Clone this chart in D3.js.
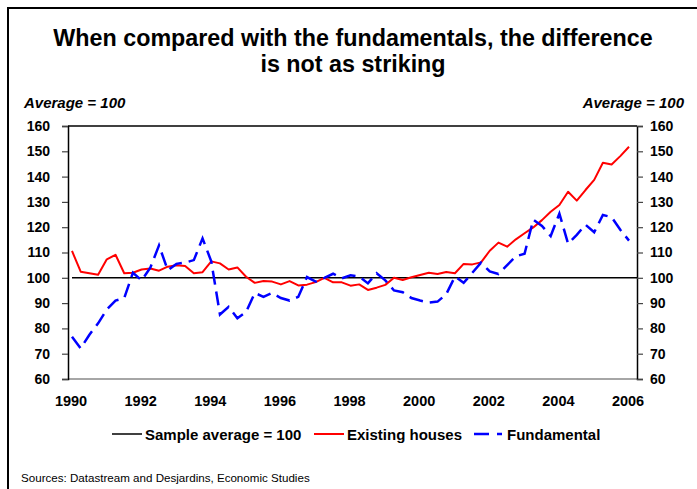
<!DOCTYPE html>
<html>
<head>
<meta charset="utf-8">
<script src="https://cdn.jsdelivr.net/npm/d3@7"></script>
<style>
  body { margin: 0; background: #fff; }
  text { font-family: "Liberation Sans", Arial, sans-serif; }
</style>
</head>
<body>
<div id="chart"></div>
<script>
// quarterly index values, 1990Q1 to 2006Q1 (average = 100)
const startYear = 1990;
const existingHouses = [
  110.6, 102.4, 101.8, 101.2, 107.3, 109.1, 101.8, 102.0,
  103.3, 103.7, 102.8, 104.4, 105.0, 104.7, 101.8, 102.2,
  106.5, 105.7, 103.3, 104.1, 100.4, 98.0, 98.7, 98.5,
  97.4, 98.7, 97.0, 97.3, 98.3, 100.0, 98.2, 98.2,
  96.9, 97.4, 95.2, 96.1, 97.2, 100.0, 99.1, 100.2,
  101.1, 102.0, 101.5, 102.3, 101.8, 105.5, 105.3, 106.1,
  110.7, 113.9, 112.3, 115.2, 117.6, 119.9, 122.8, 126.1,
  128.8, 134.0, 130.5, 134.7, 138.7, 145.5, 144.8, 148.1,
  151.8
];
const fundamental = [
  76.7, 72.1, 77.5, 82.0, 87.5, 91.0, 92.0, 102.0,
  99.0, 104.0, 112.8, 103.0, 105.5, 106.0, 107.0, 115.6,
  106.5, 85.5, 88.5, 84.0, 86.5, 94.0, 92.5, 94.0,
  92.0, 91.0, 92.5, 100.3, 98.5, 100.0, 101.6, 99.8,
  101.0, 100.5, 97.8, 101.8, 99.0, 95.0, 94.3, 92.0,
  91.0, 90.2, 90.6, 93.5, 100.5, 98.0, 102.0, 106.0,
  102.5, 101.5, 105.0, 108.5, 109.5, 123.0, 120.5, 116.5,
  125.4, 113.5, 117.0, 121.0, 118.0, 124.8, 124.0, 119.0,
  114.7
];
const sampleAverage = 100;
const yTicks = [60, 70, 80, 90, 100, 110, 120, 130, 140, 150, 160];
const xTicks = [1990, 1992, 1994, 1996, 1998, 2000, 2002, 2004, 2006];
const legendItems = ["Sample average = 100", "Existing houses", "Fundamental"];

const width = 697, height = 489;
const plot = { left: 68, right: 637, top: 126, bottom: 379 };

const svg = d3.select("#chart")
  .append("svg")
  .attr("width", width)
  .attr("height", height);

// outer frame
svg.append("rect")
  .attr("x", 8).attr("y", 8)
  .attr("width", width + 10).attr("height", height + 10)
  .attr("fill", "none")
  .attr("stroke", "#000")
  .attr("stroke-width", 2);

// title
svg.append("text")
  .attr("x", 353).attr("y", 46)
  .attr("text-anchor", "middle")
  .style("font-size", "23.3px").style("font-weight", "bold")
  .text("When compared with the fundamentals, the difference");
svg.append("text")
  .attr("x", 353).attr("y", 72)
  .attr("text-anchor", "middle")
  .style("font-size", "23.3px").style("font-weight", "bold")
  .text("is not as striking");

// unit labels
svg.append("text")
  .attr("x", 24).attr("y", 108)
  .style("font-size", "15px").style("font-weight", "bold").style("font-style", "italic")
  .text("Average = 100");
svg.append("text")
  .attr("x", 684).attr("y", 108)
  .attr("text-anchor", "end")
  .style("font-size", "15px").style("font-weight", "bold").style("font-style", "italic")
  .text("Average = 100");

// scales
let x = d3.scaleLinear()
  .domain([1990, 2006])
  .range([72, 629]);

let y = d3.scaleLinear()
  .domain([60, 160])
  .range([plot.bottom, plot.top]);

// plot border
svg.append("line")
  .attr("x1", plot.left).attr("x2", plot.right)
  .attr("y1", plot.top).attr("y2", plot.top)
  .attr("stroke", "#000").attr("stroke-width", 1.5);
svg.append("line")
  .attr("x1", plot.left).attr("x2", plot.right)
  .attr("y1", plot.bottom).attr("y2", plot.bottom)
  .attr("stroke", "#888").attr("stroke-width", 1.5);

// y axes, both sides
let axisL = svg.append("g")
  .attr("transform", `translate(${plot.left},0)`)
  .call(d3.axisLeft(y).tickValues(yTicks).tickSize(6).tickPadding(12));
let axisR = svg.append("g")
  .attr("transform", `translate(${plot.right},0)`)
  .call(d3.axisRight(y).tickValues(yTicks).tickSize(6).tickPadding(7));

[axisL, axisR].forEach(a => {
  a.select(".domain").attr("stroke", "#000").attr("stroke-width", 1.5);
  a.selectAll(".tick line").attr("stroke", "#444").attr("stroke-width", 1.2);
  a.selectAll(".tick text")
    .style("font-family", "'Liberation Sans', Arial, sans-serif")
    .style("font-size", "14px").style("font-weight", "bold")
    .attr("fill", "#000");
});

// x axis labels only
let axisB = svg.append("g")
  .attr("transform", `translate(-1.5,${plot.bottom})`)
  .call(d3.axisBottom(x).tickValues(xTicks).tickFormat(d3.format("d")).tickSize(0).tickPadding(17));
axisB.select(".domain").remove();
axisB.selectAll(".tick text")
  .style("font-family", "'Liberation Sans', Arial, sans-serif")
  .style("font-size", "14.5px").style("font-weight", "bold")
  .attr("fill", "#000");

// series
const quarter = (d, i) => startYear + i / 4;

svg.append("line")
  .attr("x1", x(1990)).attr("x2", plot.right)
  .attr("y1", y(sampleAverage)).attr("y2", y(sampleAverage))
  .attr("stroke", "#000").attr("stroke-width", 1.5);

svg.append("path")
  .datum(existingHouses)
  .attr("fill", "none")
  .attr("stroke", "#ff0000")
  .attr("stroke-width", 2)
  .attr("stroke-linejoin", "round")
  .attr("d", d3.line().x((d, i) => x(quarter(d, i))).y(d => y(d)));

svg.append("path")
  .datum(fundamental)
  .attr("fill", "none")
  .attr("stroke", "#0000ff")
  .attr("stroke-width", 2.5)
  .attr("stroke-dasharray", "14,7")
  .attr("d", d3.line().x((d, i) => x(quarter(d, i))).y(d => y(d)));

// legend
const legendY = 434;
const legendX = [112, 314, 474];
const legendStyle = [
  { color: "#000", w: 1.5, dash: null },
  { color: "#ff0000", w: 2, dash: null },
  { color: "#0000ff", w: 2.5, dash: "15,8" }
];
let leg = svg.selectAll(".legend")
  .data(legendItems)
  .join("g")
  .attr("class", "legend")
  .attr("transform", (d, i) => `translate(${legendX[i]},${legendY})`);
leg.append("line")
  .attr("x1", 0).attr("x2", (d, i) => i === 2 ? 28 : 30)
  .attr("stroke", (d, i) => legendStyle[i].color)
  .attr("stroke-width", (d, i) => legendStyle[i].w)
  .attr("stroke-dasharray", (d, i) => legendStyle[i].dash);
leg.append("text")
  .attr("x", 33)
  .attr("y", 5.5)
  .style("font-size", "15px").style("font-weight", "bold")
  .text(d => d);

// source
svg.append("text")
  .attr("x", 21).attr("y", 482)
  .style("font-size", "11.6px")
  .text("Sources: Datastream and Desjardins, Economic Studies");
</script>
</body>
</html>
